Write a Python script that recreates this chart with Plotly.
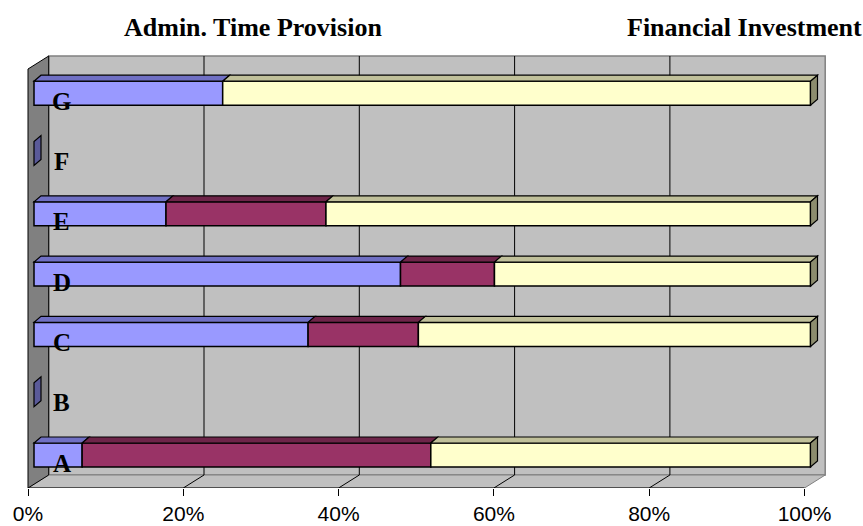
import plotly.graph_objects as go

# ---- data -------------------------------------------------------------
categories = ["A", "B", "C", "D", "E", "F", "G"]
admin = [6.2, 0, 35.3, 47.2, 17.0, 0, 24.3]
time_provision = [44.9, 0, 14.2, 12.1, 20.6, 0, 0]
financial_investment = [48.9, 0, 50.5, 40.7, 62.4, 0, 75.7]
series_names = ["Admin.", "Time Provision", "Financial Investment"]
tick_vals = [0, 20, 40, 60, 80, 100]
tick_text = ["0%", "20%", "40%", "60%", "80%", "100%"]

# ---- styling ----------------------------------------------------------
front_colors = ["#9999FF", "#993366", "#FFFFCC"]
top_colors = ["#7070C4", "#6E2549", "#C0C09A"]
side_colors = ["#5A5A99", "#5C1F3D", "#8C8C6E"]
WALL = "#C0C0C0"
SIDE_WALL = "#808080"
SERIF = "Liberation Serif, Times New Roman, serif"
SANS = "Liberation Sans, Arial, sans-serif"

W, H = 863, 526
K = 7.765          # pixels per percent along the value axis
ROW = 60.3         # pixels between category rows
X_ORIGIN = 28      # pixel column of 0% on the front edge
Y_ORIGIN = 455     # pixel row of the first category
FLOOR_FRONT = 488
FLOOR_BACK = 475
WALL_TOP = 56
WALL_TOP_FRONT = 69


def px_x(p):
    return (p - X_ORIGIN) / K


def px_y(p):
    return (Y_ORIGIN - p) / ROW


def dx(p):
    return p / K


def dy(p):
    return p / ROW


WALL_DX = dx(20.7)
BAR_X0 = dx(6)          # bars sit a little behind the front edge
BAR_H = dy(24)
BAR_DX = dx(7)
BAR_DY = dy(6)

y_floor = px_y(FLOOR_FRONT)
y_floor_back = px_y(FLOOR_BACK)
y_top_back = px_y(WALL_TOP)
y_top_front = px_y(WALL_TOP_FRONT)


def poly(pts):
    return "M " + " L ".join(f"{x},{y}" for x, y in pts) + " Z"


shapes = []

# back wall
shapes.append(dict(type="path", xref="x", yref="y", layer="below",
                   path=poly([(WALL_DX, y_floor_back), (100 + WALL_DX, y_floor_back),
                              (100 + WALL_DX, y_top_back), (WALL_DX, y_top_back)]),
                   fillcolor=WALL, line=dict(color=SIDE_WALL, width=1.5)))
# floor
shapes.append(dict(type="path", xref="x", yref="y", layer="below",
                   path=poly([(0, y_floor), (100, y_floor),
                              (100 + WALL_DX, y_floor_back), (WALL_DX, y_floor_back)]),
                   fillcolor=WALL, line=dict(color=SIDE_WALL, width=1)))
# left side wall
shapes.append(dict(type="path", xref="x", yref="y", layer="below",
                   path=poly([(0, y_floor), (0, y_top_front),
                              (WALL_DX, y_top_back), (WALL_DX, y_floor_back)]),
                   fillcolor=SIDE_WALL, line=dict(color="black", width=1)))
# gridlines on the back wall and the floor
for v in tick_vals[1:-1]:
    shapes.append(dict(type="line", xref="x", yref="y", layer="below",
                       x0=v + WALL_DX, x1=v + WALL_DX, y0=y_floor_back, y1=y_top_back,
                       line=dict(color="black", width=1)))
    shapes.append(dict(type="line", xref="x", yref="y", layer="below",
                       x0=v, x1=v + WALL_DX, y0=y_floor, y1=y_floor_back,
                       line=dict(color="black", width=1)))
# front edge of the value axis
shapes.append(dict(type="line", xref="x", yref="y", layer="below",
                   x0=0, x1=100, y0=y_floor, y1=y_floor,
                   line=dict(color="black", width=1)))

# ---- bars -------------------------------------------------------------
series = [admin, time_provision, financial_investment]
fig = go.Figure()

cum = [0.0] * len(categories)
for s, (vals, name) in enumerate(zip(series, series_names)):
    bases = [BAR_X0 + c for c in cum]
    fig.add_trace(go.Bar(
        orientation="h",
        y=list(range(len(categories))),
        x=[v if v > 0 else None for v in vals],
        base=bases,
        width=BAR_H,
        name=name,
        marker=dict(color=front_colors[s], line=dict(color="black", width=1.5)),
        showlegend=False,
        hoverinfo="skip",
    ))
    # top faces
    for i, v in enumerate(vals):
        if v <= 0:
            continue
        x0 = bases[i]
        x1 = x0 + v
        yt = i + BAR_H / 2
        shapes.append(dict(type="path", xref="x", yref="y",
                           path=poly([(x0, yt), (x1, yt), (x1 + BAR_DX, yt + BAR_DY),
                                      (x0 + BAR_DX, yt + BAR_DY)]),
                           fillcolor=top_colors[s], line=dict(color="black", width=1.2)))
    cum = [c + v for c, v in zip(cum, vals)]

# end faces: right end of each stack, or a bare sliver for empty rows
for i, total in enumerate(cum):
    yb = i - BAR_H / 2
    yt = i + BAR_H / 2
    if total > 0:
        last = max(s for s in range(3) if series[s][i] > 0)
        xe = BAR_X0 + total
        color = side_colors[last]
    else:
        xe = BAR_X0
        color = side_colors[0]
    shapes.append(dict(type="path", xref="x", yref="y",
                       path=poly([(xe, yb), (xe, yt), (xe + BAR_DX, yt + BAR_DY),
                                  (xe + BAR_DX, yb + BAR_DY)]),
                       fillcolor=color, line=dict(color="black", width=1.2)))

# ---- text -------------------------------------------------------------
annotations = []
for i, cat in enumerate(categories):
    annotations.append(dict(x=BAR_X0, y=i, xref="x", yref="y", text=f"<b>{cat}</b>",
                            showarrow=False, xanchor="center", yanchor="middle",
                            xshift=27.5, yshift=-8,
                            font=dict(family=SERIF, size=25, color="black")))

annotations.append(dict(x=122 / W, y=1 - 28 / FLOOR_FRONT, xref="paper", yref="paper",
                        text="<b>" + series_names[0] + " " + series_names[1] + "</b>",
                        showarrow=False, xanchor="left", yanchor="middle",
                        font=dict(family=SERIF, size=26, color="black")))
annotations.append(dict(x=625 / W, y=1 - 28 / FLOOR_FRONT, xref="paper", yref="paper",
                        text="<b>" + series_names[2] + "</b>",
                        showarrow=False, xanchor="left", yanchor="middle",
                        font=dict(family=SERIF, size=26, color="black")))

fig.update_layout(
    width=W, height=H, autosize=False,
    margin=dict(l=0, r=0, t=0, b=H - FLOOR_FRONT, pad=0),
    paper_bgcolor="white", plot_bgcolor="white",
    barmode="overlay",
    showlegend=False,
    shapes=shapes,
    annotations=annotations,
    xaxis=dict(range=[px_x(0), px_x(W)], tickvals=tick_vals, ticktext=tick_text,
               ticks="outside", ticklen=7, tickwidth=1, tickcolor="black",
               showgrid=False, zeroline=False, showline=False, fixedrange=True,
               tickfont=dict(family=SANS, size=21, color="black")),
    yaxis=dict(range=[y_floor, px_y(0)], visible=False, fixedrange=True),
)

fig.write_html("out.html")
